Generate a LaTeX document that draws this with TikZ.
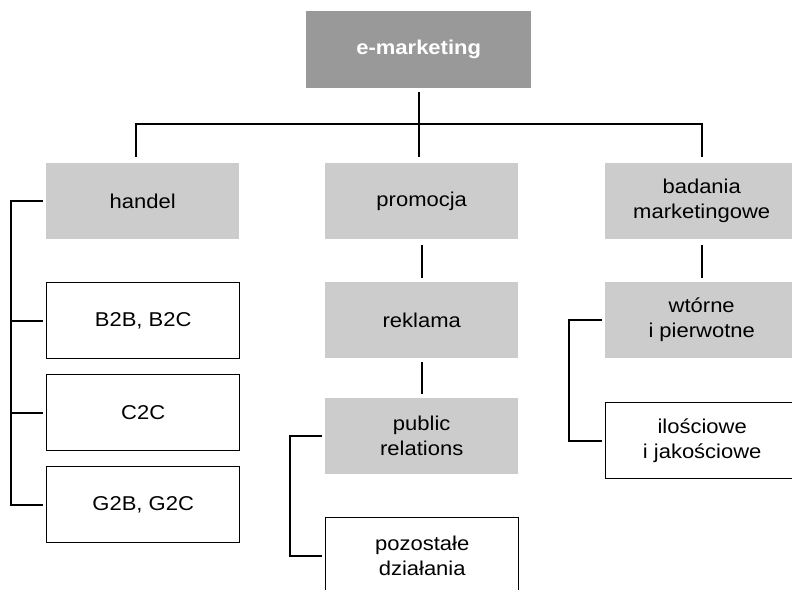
\documentclass[tikz,border=0pt]{standalone}
\usepackage{fontspec}
\setmainfont{Liberation Sans}[FakeStretch=1.1]
\definecolor{boxgray}{HTML}{CCCCCC}
\definecolor{topgray}{HTML}{999999}
\begin{document}
\begin{tikzpicture}[x=1pt,y=-1pt,
  box/.style={minimum width=193pt,minimum height=76pt,inner sep=0pt,anchor=north west,align=center,font=\fontsize{20}{25}\selectfont},
  gbox/.style={box,fill=boxgray},
  wbox/.style={box,draw=black,line width=1.4pt},
  conn/.style={line width=1.6pt,draw=black}]
\useasboundingbox (0,0) rectangle (792,589);
\clip (0,0) rectangle (792,589);
% top
\node[box,fill=topgray,minimum width=225pt,minimum height=77pt,text=white,font=\fontsize{20}{25}\selectfont\bfseries] (top) at (306,11) {e-marketing};
% left column
\node[gbox] (handel) at (46,163) {handel};
\node[wbox] (b2b) at (46,282) {B2B, B2C};
\node[wbox] (c2c) at (46,374) {C2C};
\node[wbox] (g2b) at (46,466) {G2B, G2C};
% middle column
\node[gbox] (promocja) at (325,163) {promocja};
\node[gbox] (reklama) at (325,282) {reklama};
\node[gbox] (pr) at (325,398) {public\\relations};
\node[wbox] (poz) at (325,517) {pozostałe\\działania};
% right column
\node[gbox] (badania) at (605,163) {badania\\marketingowe};
\node[gbox] (wtorne) at (605,282) {wtórne\\i pierwotne};
\node[wbox] (ilosc) at (605,402) {ilościowe\\i jakościowe};
% bus
\coordinate (busL) at (136,124);
\coordinate (busR) at (702,124);
\coordinate (lb) at (11,0);
\coordinate (mb) at (290,0);
\coordinate (rb) at (569,0);
\draw[conn,shorten <=4pt,shorten >=6pt] (top.south) -- (top.south |- promocja.north);
\draw[conn,shorten <=6pt,shorten >=6pt] (busL |- handel.north) -- (busL) -- (busR) -- (busR |- badania.north);
\draw[conn,shorten <=6pt,shorten >=4pt] (promocja.south) -- (reklama.north);
\draw[conn,shorten <=4pt,shorten >=4pt] (reklama.south) -- (pr.north);
\draw[conn,shorten <=6pt,shorten >=4pt] (badania.south) -- (wtorne.north);
% brackets
\draw[conn] ([xshift=-3pt]handel.west) -- (lb |- handel.west) -- (lb |- g2b.west) -- ([xshift=-3pt]g2b.west);
\draw[conn] (lb |- b2b.west) -- ([xshift=-3pt]b2b.west);
\draw[conn] (lb |- c2c.west) -- ([xshift=-3pt]c2c.west);
\draw[conn] ([xshift=-3pt]pr.west) -- (mb |- pr.west) -- (mb |- poz.west) -- ([xshift=-3pt]poz.west);
\draw[conn] ([xshift=-3pt]wtorne.west) -- (rb |- wtorne.west) -- (rb |- ilosc.west) -- ([xshift=-3pt]ilosc.west);
\end{tikzpicture}
\end{document}
